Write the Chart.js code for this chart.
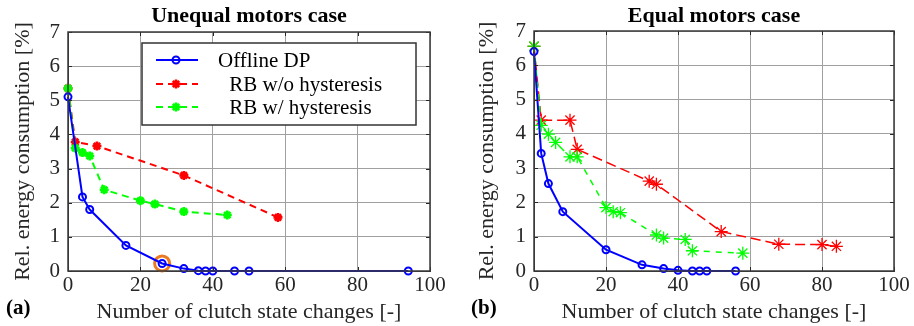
<!DOCTYPE html>
<html>
<head>
<meta charset="utf-8">
<script src="https://cdn.jsdelivr.net/npm/chart.js@4.4.0/dist/chart.umd.min.js"></script>
<style>
  body { margin: 0; background: #fff; }
  #wrap { position: relative; width: 914px; height: 326px; }
  canvas { position: absolute; top: 0; }
</style>
</head>
<body>
<div id="wrap">
  <canvas id="chartA" width="457" height="326" style="left:0"></canvas>
  <canvas id="chartB" width="457" height="326" style="left:457px"></canvas>
</div>
<script>
// (a) unequal motors case
const unequalDpX = [0, 4, 6, 16, 26, 32, 36, 38, 40, 46, 50, 94];
const unequalDpY = [5.1, 2.17, 1.8, 0.75, 0.22, 0.07, 0.01, 0, 0, 0, 0, 0];
const unequalNoHystX = [0, 2, 8, 32, 58];
const unequalNoHystY = [5.35, 3.78, 3.66, 2.8, 1.57];
const unequalHystX = [0, 2, 4, 6, 10, 20, 24, 32, 44];
const unequalHystY = [5.35, 3.6, 3.47, 3.37, 2.38, 2.06, 1.96, 1.74, 1.64];
const unequalPickX = [26];
const unequalPickY = [0.22];

// (b) equal motors case
const equalDpX = [0, 2, 4, 8, 20, 30, 36, 40, 44, 46, 48, 56];
const equalDpY = [6.4, 3.43, 2.55, 1.73, 0.62, 0.18, 0.07, 0.02, 0, 0, 0, 0];
const equalNoHystX = [0, 2, 10, 12, 32, 34, 52, 68, 80, 84];
const equalNoHystY = [6.55, 4.4, 4.4, 3.55, 2.62, 2.53, 1.15, 0.78, 0.77, 0.72];
const equalHystX = [0, 2, 4, 6, 10, 12, 20, 22, 24, 34, 36, 42, 44, 58];
const equalHystY = [6.56, 4.25, 3.99, 3.75, 3.33, 3.33, 1.85, 1.73, 1.7, 1.05, 0.96, 0.92, 0.59, 0.52];

const seriesNames = ['Offline DP', ' RB w/o hysteresis', ' RB w/ hysteresis'];
const panelTitles = ['Unequal motors case', 'Equal motors case'];
const panelTags = ['(a)', '(b)'];
const xTitle = 'Number of clutch state changes [-]';
const yTitle = 'Rel. energy consumption [%]';

const SERIF = "'Liberation Serif', 'Times New Roman', serif";
Chart.defaults.font.family = SERIF;
Chart.defaults.color = '#262626';

const pts = (xs, ys) => xs.map((x, i) => ({ x: x, y: ys[i] }));

// frame, ticks, title, tag and (optionally) legend
const decor = {
  id: 'decor',
  afterDraw(chart, args, opts) {
    const ctx = chart.ctx;
    const ca = chart.chartArea;
    const xs = chart.scales.x, ys = chart.scales.y;
    ctx.save();
    // inward tick marks on all sides
    ctx.strokeStyle = '#262626';
    ctx.lineWidth = 1;
    ctx.beginPath();
    xs.ticks.forEach(t => {
      const px = Math.round(xs.getPixelForValue(t.value)) + 0.5;
      ctx.moveTo(px, ca.bottom); ctx.lineTo(px, ca.bottom - 4);
      ctx.moveTo(px, ca.top); ctx.lineTo(px, ca.top + 4);
    });
    ys.ticks.forEach(t => {
      const py = Math.round(ys.getPixelForValue(t.value)) + 0.5;
      ctx.moveTo(ca.left, py); ctx.lineTo(ca.left + 4, py);
      ctx.moveTo(ca.right, py); ctx.lineTo(ca.right - 4, py);
    });
    ctx.stroke();
    ctx.strokeStyle = '#3a3a3a';
    ctx.lineWidth = 1.5;
    ctx.strokeRect(ca.left, ca.top, ca.right - ca.left, ca.bottom - ca.top);

    // title
    ctx.fillStyle = '#000';
    ctx.font = "bold 22px " + SERIF;
    ctx.textAlign = 'center';
    ctx.textBaseline = 'alphabetic';
    ctx.fillText(opts.title, (ca.left + ca.right) / 2, 22);

    // panel tag
    ctx.font = "bold 21px " + SERIF;
    ctx.textAlign = 'left';
    ctx.fillText(opts.tag, opts.tagX, 314);

    if (opts.legend) {
      const lx = ca.right - 288, ly = ca.top + 11, lw = 274, lh = 82;
      ctx.fillStyle = '#fff';
      ctx.fillRect(lx, ly, lw, lh);
      ctx.strokeStyle = '#333';
      ctx.lineWidth = 1.5;
      ctx.strokeRect(lx, ly, lw, lh);
      const rows = [17, 41, 64];
      const textX = [76, 82, 82];
      ctx.font = "21px " + SERIF;
      ctx.textBaseline = 'middle';
      chart.data.datasets
        .filter(d => d.legendPos !== undefined)
        .sort((a, b) => a.legendPos - b.legendPos)
        .forEach((d, i) => {
          const y = ly + rows[i];
          ctx.strokeStyle = d.borderColor;
          ctx.fillStyle = d.pointBackgroundColor;
          ctx.lineWidth = d.borderWidth;
          ctx.setLineDash(d.borderDash || []);
          ctx.beginPath();
          ctx.moveTo(lx + 14, y); ctx.lineTo(lx + 56, y);
          ctx.stroke();
          ctx.setLineDash([]);
          ctx.lineWidth = d.pointBorderWidth;
          Chart.helpers.drawPoint(ctx, {
            pointStyle: d.pointStyle, radius: d.pointRadius, rotation: 0,
            borderWidth: d.pointBorderWidth
          }, lx + 34, y);
          ctx.fillStyle = '#000';
          ctx.fillText(d.label, lx + textX[i], y + 1);
        });
    }
    ctx.restore();
  }
};

function makeChart(id, sets, cfg) {
  return new Chart(document.getElementById(id), {
    type: 'line',
    data: { datasets: sets },
    options: {
      responsive: false,
      animation: false,
      events: [],
      layout: { padding: { top: cfg.top, right: cfg.right, bottom: 0, left: 0 } },
      plugins: {
        legend: { display: false },
        tooltip: { enabled: false },
        decor: { title: cfg.title, tag: cfg.tag, tagX: cfg.tagX, legend: cfg.legend }
      },
      scales: {
        x: {
          type: 'linear', min: 0, max: 100,
          afterFit: s => { s.height = 55; },
          ticks: { stepSize: 20, padding: 2, font: { family: SERIF, size: 21 }, color: '#262626' },
          grid: { color: '#a0a0a0', drawTicks: false },
          border: { color: '#3a3a3a' },
          title: { display: true, text: xTitle, font: { family: SERIF, size: 22 }, color: '#262626', padding: { top: 0, bottom: 1 } }
        },
        y: {
          min: 0, max: 7,
          afterFit: s => { s.width = cfg.yWidth; },
          ticks: { stepSize: 1, padding: 8, font: { family: SERIF, size: 21 }, color: '#262626' },
          grid: { color: '#a0a0a0', drawTicks: false },
          border: { color: '#3a3a3a' },
          title: { display: true, text: yTitle, font: { family: SERIF, size: 22 }, color: '#262626', padding: { top: cfg.yTitlePad, bottom: 0 } }
        }
      }
    },
    plugins: [decor]
  });
}

function dpSet(xs, ys) {
  return {
    label: seriesNames[0], legendPos: 0, data: pts(xs, ys),
    borderColor: '#0000ff', backgroundColor: 'rgba(0,0,0,0)', borderWidth: 2,
    pointStyle: 'circle', pointRadius: 3.5, pointBorderWidth: 2,
    pointBackgroundColor: 'rgba(0,0,0,0)', pointBorderColor: '#0000ff',
    tension: 0, clip: false
  };
}
function rbSet(pos, xs, ys, color, dash, width, r, pbw) {
  return {
    label: seriesNames[pos], legendPos: pos, data: pts(xs, ys),
    borderColor: color, backgroundColor: color, borderWidth: width, borderDash: dash,
    pointStyle: 'star', pointRadius: r, pointBorderWidth: pbw,
    pointBackgroundColor: color, pointBorderColor: color,
    tension: 0, clip: false
  };
}

makeChart('chartA', [
  dpSet(unequalDpX, unequalDpY),
  {
    label: 'selected', data: pts(unequalPickX, unequalPickY), showLine: false,
    pointStyle: 'circle', pointRadius: 7.5, pointBorderWidth: 3,
    pointBorderColor: '#ec7a22', pointBackgroundColor: 'rgba(0,0,0,0)', clip: false
  },
  rbSet(2, unequalHystX, unequalHystY, '#00ff00', [7, 5], 2, 4.5, 2.6),
  rbSet(1, unequalNoHystX, unequalNoHystY, '#ff0000', [7, 5], 2, 4.5, 2.6)
], { top: 32, right: 27, yWidth: 68, yTitlePad: 10, title: panelTitles[0], tag: panelTags[0], tagX: 6, legend: true });

makeChart('chartB', [
  dpSet(equalDpX, equalDpY),
  rbSet(2, equalHystX, equalHystY, '#00ff00', [6, 6], 1.5, 6.5, 1.3),
  rbSet(1, equalNoHystX, equalNoHystY, '#ff0000', [10, 5], 1.5, 6.5, 1.3)
], { top: 31, right: 20, yWidth: 77, yTitlePad: 17, title: panelTitles[1], tag: panelTags[1], tagX: 14, legend: false });
</script>
</body>
</html>
